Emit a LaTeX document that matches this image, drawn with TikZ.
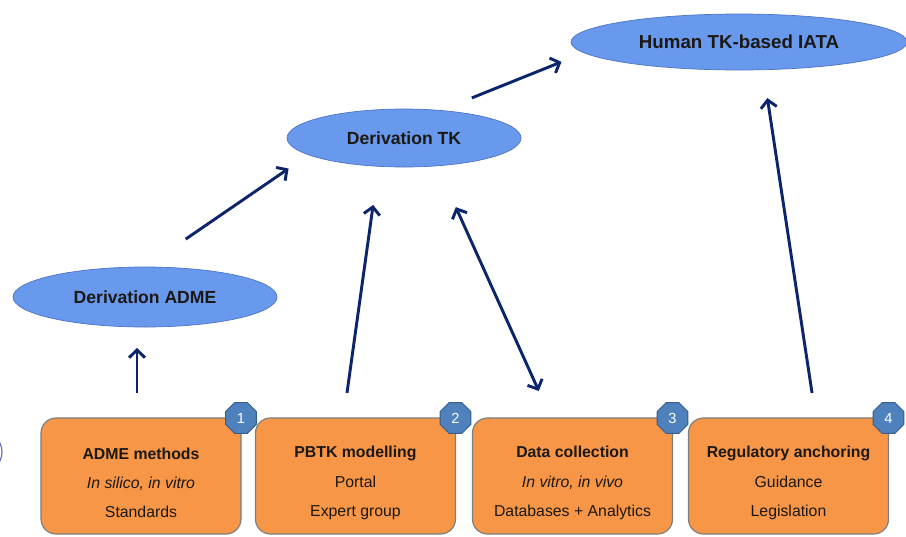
\documentclass[tikz,border=0pt]{standalone}
\usepackage{fontspec}
\setmainfont{Liberation Sans}
\usetikzlibrary{shapes.geometric,arrows.meta}

\definecolor{ovalblue}{RGB}{104,153,236}
\definecolor{ovalline}{RGB}{78,116,196}
\definecolor{boxorange}{RGB}{247,150,70}
\definecolor{boxline}{RGB}{125,125,125}
\definecolor{badgeblue}{RGB}{79,129,189}
\definecolor{badgeline}{RGB}{56,93,138}
\definecolor{arrownavy}{RGB}{12,36,108}
\definecolor{textdark}{RGB}{28,24,20}
\definecolor{edgeviolet}{RGB}{106,106,214}

\tikzset{
  oval/.style={ellipse, draw=ovalline, fill=ovalblue, line width=0.6pt,
    inner sep=0pt, outer sep=0pt, text=textdark,
    font=\bfseries\fontsize{15}{18}\selectfont},
  task/.style={draw=boxline, fill=boxorange, line width=1pt,
    rounded corners=4.5mm, minimum width=60mm, minimum height=34.8mm,
    inner sep=0pt, outer sep=0pt},
  tasktext/.style={align=center, text=textdark,
    font=\fontsize{13.5}{25}\selectfont},
  badge/.style={regular polygon, regular polygon sides=8, draw=badgeline,
    fill=badgeblue, line width=0.8pt, minimum size=10mm, inner sep=0pt,
    text=white, font=\fontsize{12.5}{14}\selectfont},
  flow/.style={draw=arrownavy, line width=2.5pt,
    -{Straight Barb[length=2.3mm,width=4.8mm]}},
}

\begin{document}
\begin{tikzpicture}[x=0.3mm,y=-0.3mm]
  \useasboundingbox (0,0) rectangle (906,536);

  % goals
  \node[oval, minimum width=100.8mm, minimum height=16.8mm,
    font=\bfseries\fontsize{16}{19}\selectfont] (iata) at (739,42) {Human TK-based IATA};
  \node[oval, minimum width=70.2mm, minimum height=17.4mm] (dtk) at (404,138) {Derivation TK};
  \node[oval, minimum width=79.2mm, minimum height=18mm] (dadme) at (145,297) {Derivation ADME};

  % building blocks
  \foreach \name/\x/\num/\head/\lineA/\lineB in {
      adme/141/1/ADME methods/{\textit{In silico, in vitro}}/Standards,
      pbtk/355.5/2/PBTK modelling/Portal/Expert group,
      dcoll/572.5/3/Data collection/{\textit{In vitro, in vivo}}/Databases + Analytics,
      reg/788.5/4/Regulatory anchoring/Guidance/Legislation} {
    \node[task] (\name) at (\x,476) {};
    \node[tasktext] (\name text) at (\x,483) {\textbf{\head}\\\lineA\\\lineB};
    \node[badge] (\name badge) at (\name.north east) {\num};
  }

  % cut-off shape at the left edge
  \draw[edgeviolet, line width=1pt] (-22,452) ellipse [x radius=7.2mm, y radius=6.6mm];

  % arrows
  \draw[flow, shorten <=7.5mm, shorten >=6.3mm] ([xshift=-1.2mm]adme.north) -- ([xshift=-1.2mm]adme.north |- dadme.south);
  \draw[flow, shorten <=14.8mm, shorten >=7.3mm] (dadme.north) -- (dtk.190);
  \draw[flow, shorten <=7.6mm, shorten >=11.7mm] ([xshift=-3.6mm]pbtk.north) -- (dtk.228);
  \draw[flow, {Straight Barb[length=2.3mm,width=4.8mm]}-{Straight Barb[length=2.3mm,width=4.8mm]},
    shorten <=8.9mm, shorten >=13.6mm] ([xshift=-6.45mm]dcoll.north) -- (dtk.320);
  \draw[flow, shorten <=10.1mm, shorten >=7.3mm] (dtk.37) -- (iata.184);
  \draw[flow, shorten <=7.6mm, shorten >=8.6mm] ([xshift=8.2mm]reg.north) -- (iata.311);
\end{tikzpicture}
\end{document}
